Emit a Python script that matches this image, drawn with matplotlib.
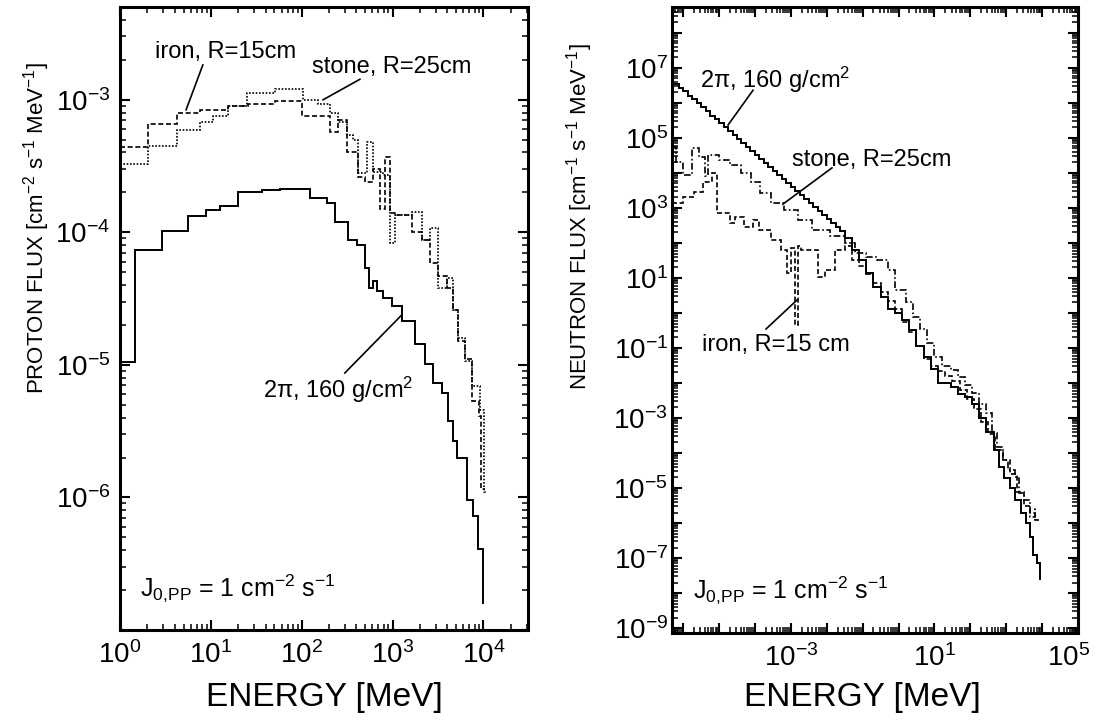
import numpy as np
import matplotlib
matplotlib.use("Agg")
import matplotlib.pyplot as plt
from matplotlib.ticker import FixedLocator, LogLocator, NullFormatter, FuncFormatter
from matplotlib.transforms import ScaledTranslation

plt.rcParams['font.family'] = ['Liberation Sans', 'DejaVu Sans']
plt.rcParams['mathtext.fontset'] = 'custom'
plt.rcParams['mathtext.rm'] = 'Liberation Sans'
plt.rcParams['mathtext.it'] = 'Liberation Sans:italic'
plt.rcParams['mathtext.bf'] = 'Liberation Sans:bold'
plt.rcParams['mathtext.default'] = 'regular'

# ---- proton spectra (left panel), energy bin edges in MeV, flux per bin
p_2pi_edges = [1.0, 1.46, 2.9, 5.6, 8.9, 12.6, 20, 37, 58, 124, 191, 234, 325, 409, 501,
               555, 614, 679, 791, 994, 1280, 1780, 2300, 2810, 3530, 4110, 4670, 5170,
               6660, 7760, 8810, 10000, 10150]
p_2pi_flux = [1.05e-5, 7.4e-5, 1.03e-4, 1.32e-4, 1.47e-4, 1.57e-4, 2.0e-4, 2.08e-4, 2.12e-4,
              1.8e-4, 1.66e-4, 1.19e-4, 8.7e-5, 8.0e-5, 5.4e-5, 3.8e-5, 4.3e-5, 3.6e-5,
              3.2e-5, 2.8e-5, 2.15e-5, 1.44e-5, 1.02e-5, 7.3e-6, 6.1e-6, 3.8e-6, 2.65e-6,
              2.0e-6, 9.6e-7, 7.2e-7, 4.1e-7, 1.6e-7]

p_iron_edges = [1.0, 2.03, 4.25, 7.6, 15.5, 25.7, 51, 101, 206, 252, 317, 419, 501, 614, 733,
                832, 945, 1072, 1650, 2130, 2610, 3190, 4010, 4670, 5310, 6340, 7570, 9040,
                9500, 10500]
p_iron_flux = [4.4e-4, 6.5e-4, 7.9e-4, 8.4e-4, 9.0e-4, 9.3e-4, 9.8e-4, 7.5e-4, 5.7e-4, 7.0e-4,
               4.0e-4, 2.6e-4, 2.4e-4, 3.0e-4, 1.5e-4, 3.7e-4, 1.4e-4, 1.35e-4, 1.0e-4, 8.7e-5,
               5.9e-5, 4.7e-5, 3.8e-5, 2.6e-5, 1.5e-5, 1.1e-5, 5.3e-6, 4.1e-6, 1.15e-6]

p_stone_edges = [1.0, 2.03, 4.25, 7.6, 10.6, 15.5, 25.1, 51, 104, 152, 206, 252, 317, 369, 419,
                 527, 614, 791, 945, 1072, 1650, 2130, 2610, 3190, 4010, 4670, 5310, 6340,
                 7570, 9270, 10260, 11070]
p_stone_flux = [3.3e-4, 4.5e-4, 5.9e-4, 6.8e-4, 7.5e-4, 8.9e-4, 1.13e-3, 1.2e-3, 1.0e-3, 9.2e-4,
                7.9e-4, 6.8e-4, 5.4e-4, 5.0e-4, 2.8e-4, 4.8e-4, 2.85e-4, 2.7e-4, 8.3e-5, 1.35e-4,
                1.42e-4, 8.7e-5, 1.07e-4, 3.8e-5, 4.5e-5, 2.6e-5, 1.6e-5, 1.07e-5, 6.9e-6,
                4.6e-6, 1.1e-6]

# ---- neutron spectra (right panel), log10 of bin edges (MeV) and log10 of flux
n_2pi_logE = [-6.31, -6.25, -6.125, -6.0, -5.875, -5.75, -5.625, -5.5, -5.375, -5.25, -5.125,
              -5.0, -4.875, -4.75, -4.625, -4.5, -4.375, -4.25, -4.125, -4.0, -3.875, -3.75,
              -3.625, -3.5, -3.375, -3.25, -3.125, -3.0, -2.875, -2.75, -2.625, -2.5, -2.375,
              -2.25, -2.125, -2.0, -1.875, -1.75, -1.625, -1.5, -1.3, -1.1, -0.9, -0.7, -0.5,
              -0.3, -0.1, 0.1, 0.3, 0.5, 0.7, 0.9, 1.1, 1.45, 1.65, 1.85, 2.05, 2.25, 2.45,
              2.65, 2.8, 2.95, 3.1, 3.25, 3.4, 3.55, 3.65, 3.75, 3.85, 3.93, 3.95]
n_2pi_logF = [6.55, 6.55, 6.44, 6.33, 6.21, 6.10, 5.99, 5.87, 5.76, 5.64, 5.53, 5.42, 5.30,
              5.19, 5.08, 4.96, 4.85, 4.73, 4.62, 4.51, 4.39, 4.28, 4.17, 4.05, 3.94, 3.82,
              3.71, 3.60, 3.48, 3.37, 3.26, 3.14, 3.03, 2.91, 2.80, 2.69, 2.57, 2.46, 2.35,
              2.15, 1.8, 1.5, 1.15, 0.75, 0.45, 0.1, 0.0, -0.2, -0.5, -0.95, -1.25, -1.6,
              -2.0, -2.1, -2.3, -2.4, -2.6, -3.0, -3.4, -3.9, -4.4, -4.7, -5.0, -5.35, -5.7,
              -6.0, -6.4, -6.9, -7.15, -7.63]

n_iron_logE = [-6.31, -6.0, -5.7, -5.45, -5.2, -5.05, -4.7, -4.55, -4.3, -4.05, -3.9, -3.56,
               -3.28, -3.11, -3.0, -2.89, -2.81, -2.72, -2.25, -2.06, -1.78, -1.5, -1.3, -1.1,
               -0.9, -0.7, -0.5, -0.3, -0.1, 0.1, 0.3, 0.5, 0.7, 0.9, 1.1, 1.3, 1.5, 1.7, 1.9,
               2.1, 2.3, 2.5, 2.7, 2.9, 3.1, 3.3, 3.5, 3.65, 3.8, 3.95]
n_iron_logF = [3.14, 3.31, 3.46, 3.74, 4.0, 2.86, 2.57, 2.74, 2.46, 2.66, 2.37, 2.09, 1.8, 1.14,
               1.86, -0.34, 1.9, 1.8, 1.03, 1.23, 1.8, 1.9, 1.5, 1.35, 1.1, 0.85, 0.6, 0.35,
               0.1, -0.25, -0.55, -0.95, -1.3, -1.5, -1.65, -1.8, -1.95, -2.2, -2.45, -2.75,
               -3.1, -3.45, -3.9, -4.2, -4.6, -5.1, -5.5, -5.7, -5.9]

n_stone_logE = [-6.31, -6.2, -6.0, -5.75, -5.55, -5.4, -5.3, -5.0, -4.7, -4.4, -4.1, -3.85,
                -3.55, -3.2, -2.8, -2.4, -1.9, -1.5, -1.2, -0.9, -0.6, -0.3, -0.1, 0.2, 0.4,
                0.6, 0.8, 1.0, 1.2, 1.45, 1.65, 1.85, 2.05, 2.25, 2.45, 2.6, 2.75, 2.9, 3.05,
                3.25, 3.35, 3.5, 3.65, 3.8, 3.88]
n_stone_logF = [4.74, 4.3, 3.94, 4.71, 4.46, 3.9, 4.51, 4.37, 4.23, 4.0, 3.74, 3.43, 3.14, 2.94,
                2.66, 2.37, 2.2, 2.0, 1.71, 1.6, 1.51, 1.23, 0.66, 0.3, -0.11, -0.45, -0.85,
                -1.26, -1.5, -1.63, -1.83, -2.05, -2.29, -2.6, -2.86, -3.43, -3.83, -4.2,
                -4.49, -4.69, -5.14, -5.34, -5.83, -5.6]

left_xlabels = [0, 1, 2, 3, 4]
left_ylabels = [-6, -5, -4, -3]
right_xlabels = [-3, 1, 5]
right_ylabels = [-9, -7, -5, -3, -1, 1, 3, 5, 7]


def exp_formatter(shown):
    def f(v, pos):
        e = int(round(np.log10(v)))
        return r'$10^{%d}$' % e if e in shown else ''
    return FuncFormatter(f)


def style_axis(ax, xmaj, ymaj, xshown, yshown, xpad, ypad):
    ax.set_xscale('log')
    ax.set_yscale('log')
    ax.xaxis.set_major_locator(FixedLocator(10.0 ** np.array(xmaj)))
    ax.yaxis.set_major_locator(FixedLocator(10.0 ** np.array(ymaj)))
    ax.xaxis.set_minor_locator(LogLocator(base=10, subs=np.arange(2, 10), numticks=200))
    ax.yaxis.set_minor_locator(LogLocator(base=10, subs=np.arange(2, 10), numticks=200))
    ax.xaxis.set_major_formatter(exp_formatter(xshown))
    ax.yaxis.set_major_formatter(exp_formatter(yshown))
    ax.xaxis.set_minor_formatter(NullFormatter())
    ax.yaxis.set_minor_formatter(NullFormatter())
    ax.tick_params(which='both', direction='in', top=True, right=True, labelsize=20)
    ax.tick_params(which='major', length=7, width=1.5)
    ax.tick_params(which='minor', length=4, width=1.1)
    ax.tick_params(axis='x', pad=xpad)
    ax.tick_params(axis='y', pad=ypad)
    for s in ax.spines.values():
        s.set_linewidth(2.2)


fig = plt.figure(figsize=(10.97, 7.22), dpi=100)
ax1 = fig.add_axes([0.1094, 0.1274, 0.3719, 0.8629])
ax2 = fig.add_axes([0.6126, 0.1233, 0.3701, 0.8670])

# left panel: protons
ax1.stairs(p_2pi_flux, p_2pi_edges, baseline=None, color='k', lw=1.4)
ax1.stairs(p_iron_flux, p_iron_edges, baseline=None, color='k', lw=1.2, linestyle=(0, (3, 1.6)))
ax1.stairs(p_stone_flux, p_stone_edges, baseline=None, color='k', lw=1.2, linestyle=(0, (1, 1)))
style_axis(ax1, range(0, 5), range(-7, -2), left_xlabels, left_ylabels, 8, 7)
ax1.set_xlim(1, 3.1e4)
ax1.set_ylim(1e-7, 5e-3)
ax1.set_xlabel('ENERGY [MeV]', fontsize=24)
ax1.xaxis.set_label_coords(0.5, -0.084)
ax1.set_ylabel(r'PROTON FLUX [cm$^{-2}$ s$^{-1}$ MeV$^{-1}$]', fontsize=16)
ax1.yaxis.set_label_coords(-0.166, 0.645)

tf = ax1.transAxes
ax1.text(0.086, 0.928, 'iron, R=15cm', transform=tf, fontsize=17, va='center')
ax1.plot([0.203, 0.162], [0.907, 0.835], transform=tf, color='k', lw=1.2)
ax1.text(0.471, 0.904, 'stone, R=25cm', transform=tf, fontsize=17, va='center')
ax1.plot([0.588, 0.4975], [0.884, 0.851], transform=tf, color='k', lw=1.2)
ax1.text(0.350, 0.385, '2π, 160 g/cm$^{2}$', transform=tf, fontsize=17, va='center')
ax1.plot([0.551, 0.691], [0.4125, 0.506], transform=tf, color='k', lw=1.2)
ax1.text(0.049, 0.067, r'J$_{0{,}PP}$ = 1 cm$^{-2}$ s$^{-1}$', transform=tf, fontsize=18,
         va='center')

# right panel: neutrons
ax2.stairs(10.0 ** np.array(n_2pi_logF), 10.0 ** np.array(n_2pi_logE), baseline=None,
           color='k', lw=1.4)
ax2.stairs(10.0 ** np.array(n_iron_logF), 10.0 ** np.array(n_iron_logE), baseline=None,
           color='k', lw=1.2, linestyle=(0, (3, 1.6)))
ax2.stairs(10.0 ** np.array(n_stone_logF), 10.0 ** np.array(n_stone_logE), baseline=None,
           color='k', lw=1.2, linestyle=(0, (4, 1.5, 1, 1.5)))
style_axis(ax2, range(-6, 6), range(-9, 9), right_xlabels, right_ylabels, 8, 3)
ax2.set_xlim(10 ** -6.31, 1e5)
ax2.set_ylim(10 ** -9.14, 10 ** 8.74)
ax2.set_xlabel('ENERGY [MeV]', fontsize=24)
ax2.xaxis.set_label_coords(0.47, -0.079)
ax2.set_ylabel(r'NEUTRON FLUX [cm$^{-1}$ s$^{-1}$ MeV$^{-1}$]', fontsize=16)
ax2.yaxis.set_label_coords(-0.19, 0.665)

tf = ax2.transAxes
ax2.text(0.069, 0.883, '2π, 160 g/cm$^{2}$', transform=tf, fontsize=17, va='center')
ax2.plot([0.1995, 0.138], [0.867, 0.8115], transform=tf, color='k', lw=1.2)
ax2.text(0.296, 0.756, 'stone, R=25cm', transform=tf, fontsize=17, va='center')
ax2.plot([0.394, 0.273], [0.743, 0.685], transform=tf, color='k', lw=1.2)
ax2.text(0.074, 0.46, 'iron, R=15 cm', transform=tf, fontsize=17, va='center')
ax2.plot([0.2315, 0.308], [0.4856, 0.532], transform=tf, color='k', lw=1.2)
ax2.text(0.052, 0.069, r'J$_{0{,}PP}$ = 1 cm$^{-2}$ s$^{-1}$', transform=tf, fontsize=18,
         va='center')

# nudge the last x label of the right panel so it stays inside the figure
fig.canvas.draw()
last = [t for t in ax2.get_xticklabels() if t.get_text()][-1]
last.set_transform(last.get_transform() + ScaledTranslation(-7 / 72, 0, fig.dpi_scale_trans))

fig.savefig('out.png', dpi=100)
